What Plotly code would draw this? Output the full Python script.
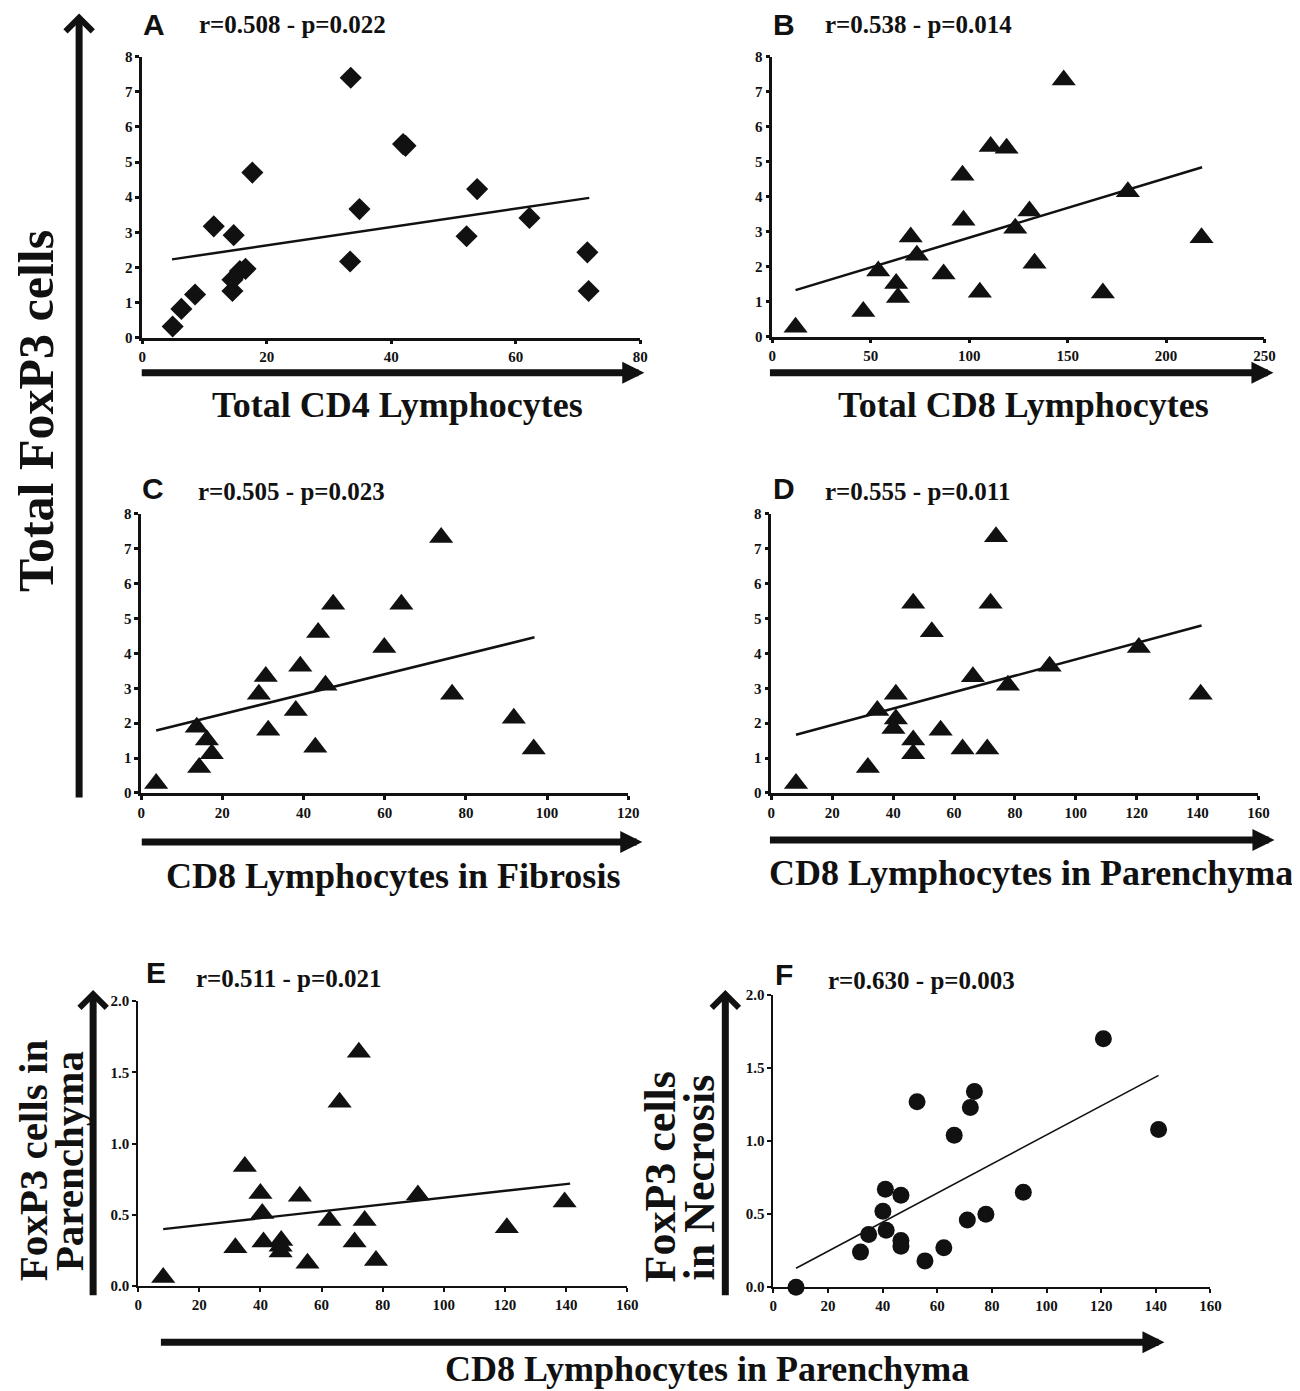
import plotly.graph_objects as go

# page margin compensation (body margin of the html page) and measured photo scaling
OFF = 8
W = 1300 - 2 * OFF
H = 1391 - 2 * OFF + 10
SCALE = 0.988
BX, BY = 3.0, 8.5

# ---------------- data ----------------
# Panel A: Total CD4 vs Total FoxP3
a_x = [4.9, 6.3, 8.5, 11.5, 14.7, 14.5, 14.5, 15.7, 16.6, 17.7, 33.4, 33.5, 34.9, 41.9, 42.3, 52.1, 53.8, 62.2, 71.5, 71.7]
a_y = [0.32, 0.82, 1.23, 3.17, 2.92, 1.65, 1.33, 1.90, 1.96, 4.70, 2.17, 7.40, 3.66, 5.51, 5.46, 2.89, 4.23, 3.41, 2.43, 1.33]
a_trend_x = [4.8, 71.8]
a_trend_y = [2.23, 3.98]

# Panel B: Total CD8 vs Total FoxP3
b_x = [11.8, 46.2, 53.8, 62.9, 63.8, 70.3, 73.4, 87.0, 96.6, 97.1, 105.4, 110.9, 119.0, 123.4, 130.6, 133.2, 148.0, 167.9, 180.6, 218.0]
b_y = [0.27, 0.72, 1.88, 1.52, 1.12, 2.85, 2.33, 1.79, 4.61, 3.33, 1.27, 5.43, 5.38, 3.10, 3.59, 2.10, 7.33, 1.25, 4.14, 2.83]
b_trend_x = [11.8, 218.3]
b_trend_y = [1.33, 4.84]

# Panel C: CD8 in Fibrosis vs Total FoxP3
c_x = [3.7, 13.7, 16.2, 17.4, 14.3, 29.0, 30.7, 31.3, 38.1, 39.2, 42.9, 43.6, 45.4, 47.3, 59.9, 64.1, 73.9, 76.6, 91.8, 96.7]
c_y = [0.27, 1.88, 1.52, 1.12, 0.73, 2.83, 3.34, 1.80, 2.36, 3.63, 1.31, 4.60, 3.09, 5.41, 4.17, 5.41, 7.32, 2.83, 2.14, 1.26]
c_trend_x = [3.7, 96.9]
c_trend_y = [1.79, 4.46]

# Panel D: CD8 in Parenchyma vs Total FoxP3
d_x = [8.1, 31.7, 34.8, 40.9, 40.9, 40.1, 46.6, 46.6, 46.6, 52.7, 55.6, 62.8, 66.2, 70.9, 72.0, 73.8, 77.7, 91.4, 120.7, 141.0]
d_y = [0.27, 0.73, 2.36, 2.83, 2.12, 1.85, 1.52, 1.12, 5.44, 4.62, 1.80, 1.26, 3.33, 1.26, 5.44, 7.34, 3.09, 3.63, 4.17, 2.83]
d_trend_x = [8.1, 141.3]
d_trend_y = [1.67, 4.80]

# Panel E: CD8 in Parenchyma vs FoxP3 in Parenchyma
e_x = [8.2, 31.8, 34.9, 40.0, 40.6, 41.0, 46.8, 46.6, 46.6, 52.9, 55.4, 62.6, 65.9, 70.8, 72.2, 74.1, 77.8, 91.5, 120.6, 139.5]
e_y = [0.06, 0.27, 0.84, 0.65, 0.51, 0.31, 0.32, 0.28, 0.24, 0.63, 0.16, 0.46, 1.29, 0.31, 1.64, 0.46, 0.18, 0.64, 0.41, 0.59]
e_trend_x = [8.2, 141.3]
e_trend_y = [0.40, 0.72]

# Panel F: CD8 in Parenchyma vs FoxP3 in Necrosis
f_x = [8.3, 31.9, 34.9, 40.1, 41.0, 41.3, 46.7, 46.7, 46.7, 52.6, 55.5, 62.4, 66.2, 71.0, 72.1, 73.6, 77.8, 91.5, 120.8, 141.0]
f_y = [0.00, 0.24, 0.36, 0.52, 0.67, 0.39, 0.63, 0.32, 0.28, 1.27, 0.18, 0.27, 1.04, 0.46, 1.23, 1.34, 0.50, 0.65, 1.70, 1.08]
f_trend_x = [8.3, 141.0]
f_trend_y = [0.13, 1.45]

stats = ["r=0.508 - p=0.022", "r=0.538 - p=0.014", "r=0.505 - p=0.023",
         "r=0.555 - p=0.011", "r=0.511 - p=0.021", "r=0.630 - p=0.003"]
letters = ["A", "B", "C", "D", "E", "F"]

# ---------------- layout helpers ----------------
def px(x):
    u = (x - BX) / SCALE
    return (u - OFF) / W

def py(y):
    u = (y - BY) / SCALE
    return 1 - (u - OFF) / H

SERIF = "Liberation Serif"
SANS = "Liberation Sans"
INK = "#111111"

panels = [
    dict(x=a_x, y=a_y, tx=a_trend_x, ty=a_trend_y, sym="diamond", size=17,
         xr=[0, 80], xd=20, yr=[0, 8], yd=1, dom=(141, 639, 57, 338), lw=2.5, tl=2.5, yfmt="{:.0f}"),
    dict(x=b_x, y=b_y, tx=b_trend_x, ty=b_trend_y, sym="triangle-up", size=21,
         xr=[0, 250], xd=50, yr=[0, 8], yd=1, dom=(771, 1263, 57, 337), lw=2.5, tl=2.5, yfmt="{:.0f}"),
    dict(x=c_x, y=c_y, tx=c_trend_x, ty=c_trend_y, sym="triangle-up", size=21,
         xr=[0, 120], xd=20, yr=[0, 8], yd=1, dom=(140, 627, 514, 793), lw=2.5, tl=2.5, yfmt="{:.0f}"),
    dict(x=d_x, y=d_y, tx=d_trend_x, ty=d_trend_y, sym="triangle-up", size=21,
         xr=[0, 160], xd=20, yr=[0, 8], yd=1, dom=(770, 1257, 514, 793), lw=2.5, tl=2.5, yfmt="{:.0f}"),
    dict(x=e_x, y=e_y, tx=e_trend_x, ty=e_trend_y, sym="triangle-up", size=21,
         xr=[0, 160], xd=20, yr=[0, 2], yd=0.5, dom=(137, 626, 1001, 1286), lw=1.8, tl=2.3, yfmt="{:.1f}"),
    dict(x=f_x, y=f_y, tx=f_trend_x, ty=f_trend_y, sym="circle", size=17,
         xr=[0, 160], xd=20, yr=[0, 2], yd=0.5, dom=(772, 1209, 995, 1287), lw=1.8, tl=1.6, yfmt="{:.1f}"),
]

def ticks(lo, hi, step, fmt):
    vals = []
    n = int(round((hi - lo) / step))
    for k in range(n + 1):
        vals.append(lo + k * step)
    return vals, [f"<b>{fmt.format(v)}</b>" for v in vals]

fig = go.Figure()
layout_axes = {}
for i, p in enumerate(panels, start=1):
    xa = "x" if i == 1 else f"x{i}"
    ya = "y" if i == 1 else f"y{i}"
    fig.add_trace(go.Scatter(
        x=p["tx"], y=p["ty"], mode="lines", xaxis=xa, yaxis=ya,
        line=dict(color=INK, width=p["tl"]), showlegend=False, hoverinfo="skip",
        cliponaxis=False))
    fig.add_trace(go.Scatter(
        x=p["x"], y=p["y"], mode="markers", xaxis=xa, yaxis=ya,
        marker=dict(symbol=p["sym"], size=p["size"], color=INK,
                    line=dict(width=0)),
        showlegend=False, cliponaxis=False))
    x0, x1, y0, y1 = p["dom"]
    tickfont = dict(family=SERIF, size=15, color=INK)
    xv, xt = ticks(p["xr"][0], p["xr"][1], p["xd"], "{:.0f}")
    yv, yt = ticks(p["yr"][0], p["yr"][1], p["yd"], p["yfmt"])
    layout_axes["xaxis" if i == 1 else f"xaxis{i}"] = dict(
        domain=[px(x0), px(x1)], range=p["xr"], anchor=ya,
        tickmode="array", tickvals=xv, ticktext=xt,
        showline=True, linecolor=INK, linewidth=p["lw"], showgrid=False,
        zeroline=False, ticks="outside", ticklen=4, tickwidth=p["lw"],
        tickcolor=INK, tickfont=tickfont, fixedrange=True)
    layout_axes["yaxis" if i == 1 else f"yaxis{i}"] = dict(
        domain=[py(y1), py(y0)], range=p["yr"], anchor=xa,
        tickmode="array", tickvals=yv, ticktext=yt,
        showline=True, linecolor=INK, linewidth=p["lw"], showgrid=False,
        zeroline=False, ticks="outside", ticklen=4, tickwidth=p["lw"],
        tickcolor=INK, tickfont=tickfont, fixedrange=True)

annotations = []

def text(x, y, s, size, family=SERIF, angle=0, xanchor="center"):
    annotations.append(dict(
        x=px(x), y=py(y), xref="paper", yref="paper", text=s, showarrow=False,
        font=dict(family=family, size=size, color=INK), textangle=angle,
        xanchor=xanchor, yanchor="middle"))

def arrow(x_tip, y_tip, x_tail, y_tail, width, head, size):
    dx = (px(x_tail) - px(x_tip)) * W
    dy = -(py(y_tail) - py(y_tip)) * H
    annotations.append(dict(
        x=px(x_tip), y=py(y_tip), xref="paper", yref="paper", text="",
        showarrow=True, ax=dx, ay=dy, axref="pixel", ayref="pixel",
        arrowhead=head, arrowwidth=width, arrowsize=size, arrowcolor=INK,
        standoff=0, startstandoff=0))

# panel letters and statistics
letter_pos = [(153, 25), (783, 25), (152, 489), (783, 489), (155, 972), (783, 974)]
stat_pos = [(196, 25), (822, 25), (195, 492), (822, 492), (193, 978), (825, 980)]
for (lx, ly), (sx, sy), L, s in zip(letter_pos, stat_pos, letters, stats):
    text(lx, ly, f"<b>{L}</b>", 30, family=SANS)
    text(sx, sy, f"<b>{s}</b>", 25, xanchor="left")

# axis titles
text(396, 405, "<b>Total CD4 Lymphocytes</b>", 36)
text(1022, 405, "<b>Total CD8 Lymphocytes</b>", 36)
text(392, 876, "<b>CD8 Lymphocytes in Fibrosis</b>", 36)
text(1030, 873, "<b>CD8 Lymphocytes in Parenchyma</b>", 36)
text(706, 1369, "<b>CD8 Lymphocytes in Parenchyma</b>", 36)
text(35, 411, "<b>Total FoxP3 cells</b>", 50, angle=-90)
text(32, 1160, "<b>FoxP3 cells in</b>", 41, angle=-90)
text(68, 1161, "<b>Parenchyma</b>", 41, angle=-90)
text(659, 1177, "<b>FoxP3 cells</b>", 44, angle=-90)
text(698, 1177, "<b>in Necrosis</b>", 44, angle=-90)

# arrows (tip, tail)
arrow(643, 373, 145, 373, 7, 2, 0.63)      # A x
arrow(1272, 373, 773, 373, 7, 2, 0.63)     # B x
arrow(641, 842, 145, 842, 7, 2, 0.63)      # C x
arrow(1273, 840, 773, 840, 7, 2, 0.63)     # D x
arrow(1163, 1342, 170, 1342, 7, 2, 0.63)   # bottom x
arrow(78, 14, 78, 790, 7, 4, 0.75)         # Total FoxP3 y
arrow(92, 990, 92, 1293, 7, 4, 0.75)       # E y
arrow(724, 990, 724, 1293, 7, 4, 0.75)     # F y

fig.update_layout(
    width=W, height=H, margin=dict(l=0, r=0, t=0, b=0),
    paper_bgcolor="white", plot_bgcolor="white",
    annotations=annotations, showlegend=False, **layout_axes)

fig.write_html("out.html")
